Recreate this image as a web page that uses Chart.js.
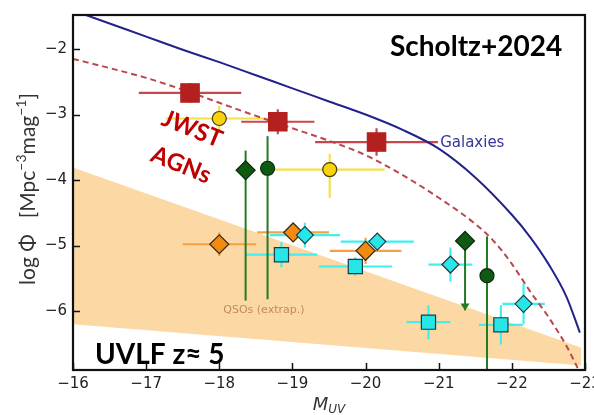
<!DOCTYPE html>
<html>
<head>
<meta charset="utf-8">
<script src="https://cdn.jsdelivr.net/npm/chart.js@4.4.1/dist/chart.umd.min.js"></script>
<style>
  html, body { margin: 0; padding: 0; background: #fff; overflow: hidden; width: 594px; height: 415px; }
  #wrap { position: relative; width: 640px; height: 415px; }
</style>
</head>
<body>
<div id="wrap"><canvas id="c" width="640" height="415"></canvas></div>
<script>
// Axis ticks
const magTicks = [-16, -17, -18, -19, -20, -21, -22, -23];
const phiTicks = [-2, -3, -4, -5, -6];

// Galaxy UV luminosity function (solid curve)
const galM   = [-16.0, -16.5, -17.0, -17.5, -18.0, -18.5, -19.0, -19.5, -20.0, -20.5, -21.0, -21.5, -22.0, -22.25, -22.5, -22.75, -22.93];
const galPhi = [-1.41, -1.61, -1.81, -2.01, -2.20, -2.40, -2.60, -2.80, -3.00, -3.23, -3.52, -3.96, -4.53, -4.87, -5.28, -5.79, -6.33];

// AGN luminosity function (dashed curve)
const agnM   = [-16.0, -16.5, -17.0, -17.5, -18.0, -18.5, -19.0, -19.5, -20.0, -20.5, -21.0, -21.5, -21.75, -22.0, -22.25, -22.5, -22.75, -22.9];
const agnPhi = [-2.15, -2.29, -2.44, -2.62, -2.82, -3.02, -3.21, -3.40, -3.62, -3.92, -4.27, -4.67, -4.93, -5.28, -5.70, -6.09, -6.54, -6.87];

// Extrapolated QSO band
const qsoM     = [-16.0, -22.95];
const qsoUpper = [-3.81, -6.56];
const qsoLower = [-6.20, -6.83];

// Red squares
const redM      = [-17.60, -18.80, -20.15];
const redPhi    = [-2.67, -3.11, -3.42];
const redMErr   = [0.70, 0.50, 0.84];
const redPhiErr = [0.15, 0.19, 0.21];

// Yellow circles
const yelM       = [-18.00, -19.51];
const yelPhi     = [-3.06, -3.84];
const yelMErr    = [0.73, 0.75];
const yelPhiErrU = [0.19, 0.24];
const yelPhiErrD = [0.22, 0.43];

// Dark green diamonds / circles (lower ends of error bars, one upper limit)
const grnDiaM   = [-18.36, -21.36];
const grnDiaPhi = [-3.85, -4.93];
const grnDiaTop = [-3.55, null];
const grnDiaBot = [-5.84, -5.99];
const grnCirM   = [-18.66, -21.66];
const grnCirPhi = [-3.82, -5.46];
const grnCirTop = [-3.33, -4.86];
const grnCirBot = [-5.82, -7.50];

// Orange diamonds
const orgM      = [-18.00, -19.01, -20.00];
const orgPhi    = [-4.98, -4.80, -5.08];
const orgMErr   = [0.50, 0.49, 0.49];
const orgPhiErr = [0.18, 0.12, 0.20];

// Cyan diamonds
const cyDiaM      = [-19.17, -20.16, -21.16, -22.16];
const cyDiaPhi    = [-4.84, -4.94, -5.29, -5.89];
const cyDiaMErr   = [0.48, 0.50, 0.30, 0.29];
const cyDiaPhiErr = [0.19, 0.10, 0.26, 0.31];

// Cyan squares
const cySqM      = [-18.85, -19.86, -20.86, -21.85];
const cySqPhi    = [-5.14, -5.32, -6.17, -6.21];
const cySqMErr   = [0.49, 0.50, 0.30, 0.30];
const cySqPhiErr = [0.19, 0.14, 0.26, 0.30];

const pts = (xs, ys) => xs.map((x, i) => ({ x: x, y: ys[i] }));

// error-bar groups drawn beneath the markers
const errGroups = [
  { m: orgM, phi: orgPhi, mErr: orgMErr, up: orgPhiErr, dn: orgPhiErr, color: '#f5a043', w: 2.2 },
  { m: cySqM, phi: cySqPhi, mErr: cySqMErr, up: cySqPhiErr, dn: cySqPhiErr, color: '#3ff0ee', w: 2.2 },
  { m: cyDiaM, phi: cyDiaPhi, mErr: cyDiaMErr, up: cyDiaPhiErr, dn: cyDiaPhiErr, color: '#3ff0ee', w: 2.2 },
  { m: yelM, phi: yelPhi, mErr: yelMErr, up: yelPhiErrU, dn: yelPhiErrD, color: '#f3e04a', w: 2.2 },
  { m: redM, phi: redPhi, mErr: redMErr, up: redPhiErr, dn: redPhiErr, color: '#c9474a', w: 2.2 }
];

const frameTicksPlugin = {
  id: 'frameTicks',
  afterDatasetDraw(chart, args) {
    if (chart.data.datasets[args.index].id !== 'qsoUpper') return;
    const ctx = chart.ctx, xs = chart.scales.x, ys = chart.scales.y, a = chart.chartArea;
    ctx.save();
    ctx.beginPath();
    ctx.rect(a.left, a.top, a.right - a.left, a.bottom - a.top);
    ctx.clip();
    ctx.lineCap = 'butt';
    errGroups.forEach(g => {
      ctx.strokeStyle = g.color;
      ctx.lineWidth = g.w;
      g.m.forEach((m, i) => {
        const px = xs.getPixelForValue(m), py = ys.getPixelForValue(g.phi[i]);
        ctx.beginPath();
        ctx.moveTo(xs.getPixelForValue(m + g.mErr[i]), py);
        ctx.lineTo(xs.getPixelForValue(m - g.mErr[i]), py);
        ctx.moveTo(px, ys.getPixelForValue(g.phi[i] + g.up[i]));
        ctx.lineTo(px, ys.getPixelForValue(g.phi[i] - g.dn[i]));
        ctx.stroke();
      });
    });
    // green vertical bars
    ctx.strokeStyle = '#237a23';
    ctx.fillStyle = '#237a23';
    ctx.lineWidth = 2;
    grnDiaM.forEach((m, i) => {
      const px = xs.getPixelForValue(m);
      const top = grnDiaTop[i] === null ? grnDiaPhi[i] : grnDiaTop[i];
      ctx.beginPath();
      ctx.moveTo(px, ys.getPixelForValue(top));
      ctx.lineTo(px, ys.getPixelForValue(grnDiaBot[i]));
      ctx.stroke();
      if (grnDiaTop[i] === null) {
        const tip = ys.getPixelForValue(grnDiaBot[i]);
        ctx.beginPath();
        ctx.moveTo(px - 4.5, tip - 7);
        ctx.lineTo(px + 4.5, tip - 7);
        ctx.lineTo(px, tip);
        ctx.closePath();
        ctx.fill();
      }
    });
    grnCirM.forEach((m, i) => {
      const px = xs.getPixelForValue(m);
      ctx.beginPath();
      ctx.moveTo(px, ys.getPixelForValue(grnCirTop[i]));
      ctx.lineTo(px, ys.getPixelForValue(grnCirBot[i]));
      ctx.stroke();
    });
    ctx.restore();
  },
  afterDatasetsDraw(chart) {
    const ctx = chart.ctx, xs = chart.scales.x, ys = chart.scales.y, a = chart.chartArea;
    ctx.save();
    // annotations
    ctx.fillStyle = '#35359c';
    ctx.font = '15px "DejaVu Sans"';
    ctx.textAlign = 'left';
    ctx.textBaseline = 'middle';
    ctx.fillText('Galaxies', xs.getPixelForValue(-21.02), ys.getPixelForValue(-3.43));
    ctx.fillStyle = '#c58a5c';
    ctx.font = '11px "DejaVu Sans"';
    ctx.textAlign = 'center';
    ctx.fillText('QSOs (extrap.)', xs.getPixelForValue(-18.61), ys.getPixelForValue(-5.98));

    ctx.fillStyle = '#000';
    ctx.font = 'bold 28px Lato';
    ctx.textAlign = 'left';
    ctx.textBaseline = 'alphabetic';
    ctx.fillText('Scholtz+2024', a.left + 317, a.top + 41);
    ctx.fillText('UVLF z\u2248 5', a.left + 22, a.top + 349);

    ctx.fillStyle = '#c00000';
    ctx.font = 'bold 24px Lato';
    ctx.textAlign = 'center';
    ctx.textBaseline = 'middle';
    [['JWST', 192, 129], ['AGNs', 181, 165]].forEach(([t, x, y]) => {
      ctx.save();
      ctx.translate(x, y);
      ctx.rotate(22 * Math.PI / 180);
      ctx.fillText(t, 0, 0);
      ctx.restore();
    });
    ctx.restore();
  },
  afterDraw(chart) {
    const ctx = chart.ctx, xs = chart.scales.x, ys = chart.scales.y, a = chart.chartArea;
    ctx.save();
    ctx.strokeStyle = '#111';
    ctx.lineWidth = 1.5;
    magTicks.forEach(v => {
      const px = Math.round(xs.getPixelForValue(v)) + 0.5;
      ctx.beginPath();
      ctx.moveTo(px, a.bottom);
      ctx.lineTo(px, a.bottom - 7);
      ctx.stroke();
    });
    phiTicks.forEach(v => {
      const py = Math.round(ys.getPixelForValue(v)) + 0.5;
      ctx.beginPath();
      ctx.moveTo(a.left, py);
      ctx.lineTo(a.left + 7, py);
      ctx.stroke();
    });
    ctx.lineWidth = 2.2;
    ctx.strokeStyle = '#111';
    ctx.strokeRect(a.left, a.top, a.right - a.left, a.bottom - a.top);

    // y-axis title with superscripts
    ctx.fillStyle = '#333';
    ctx.textBaseline = 'alphabetic';
    ctx.textAlign = 'left';
    const big = '21px Lato', small = '14px Lato';
    const parts = [['log \u03A6   [Mpc', big, 0], ['\u22123', small, -9], ['mag', big, 0], ['\u22121', small, -9], [']', big, 0]];
    let total = 0;
    parts.forEach(p => { ctx.font = p[1]; total += ctx.measureText(p[0]).width; });
    ctx.translate(35, 189);
    ctx.rotate(-Math.PI / 2);
    let cx = -total / 2;
    parts.forEach(p => { ctx.font = p[1]; ctx.fillText(p[0], cx, p[2]); cx += ctx.measureText(p[0]).width; });
    ctx.setTransform(1, 0, 0, 1, 0, 0);

    // x-axis title M_UV
    ctx.font = 'italic 18px "DejaVu Sans"';
    const mw = ctx.measureText('M').width;
    ctx.font = 'italic 12px "DejaVu Sans"';
    const uw = ctx.measureText('UV').width;
    const x0 = (a.left + a.right) / 2 - (mw + uw) / 2;
    ctx.font = 'italic 18px "DejaVu Sans"';
    ctx.fillText('M', x0, 410);
    ctx.font = 'italic 12px "DejaVu Sans"';
    ctx.fillText('UV', x0 + mw, 413);
    ctx.restore();
  }
};

const markerBase = { type: 'scatter', showLine: false, order: 1, pointBorderWidth: 1.2, pointHoverRadius: 0 };

new Chart(document.getElementById('c'), {
  type: 'scatter',
  data: {
    datasets: [
      Object.assign({}, markerBase, { label: 'cyan diamonds', data: pts(cyDiaM, cyDiaPhi), pointStyle: 'rectRot', pointRadius: 8.5, backgroundColor: '#27e6e8', borderColor: '#1c3a44', order: 1 }),
      Object.assign({}, markerBase, { label: 'cyan squares', data: pts(cySqM, cySqPhi), pointStyle: 'rect', pointRadius: 10, backgroundColor: '#27e6e8', borderColor: '#1c3a44', order: 1 }),
      Object.assign({}, markerBase, { label: 'orange diamonds', data: pts(orgM, orgPhi), pointStyle: 'rectRot', pointRadius: 9.5, backgroundColor: '#f28a10', borderColor: '#3a2a10', order: 2 }),
      Object.assign({}, markerBase, { label: 'green diamonds', data: pts(grnDiaM, grnDiaPhi), pointStyle: 'rectRot', pointRadius: 9.5, backgroundColor: '#0e5a12', borderColor: '#0a2a0a', order: 2 }),
      Object.assign({}, markerBase, { label: 'green circles', data: pts(grnCirM, grnCirPhi), pointStyle: 'circle', pointRadius: 7, backgroundColor: '#0e5a12', borderColor: '#0a2a0a', order: 2 }),
      Object.assign({}, markerBase, { label: 'yellow circles', data: pts(yelM, yelPhi), pointStyle: 'circle', pointRadius: 7, backgroundColor: '#f7d20e', borderColor: '#4a3a10', order: 2 }),
      Object.assign({}, markerBase, { label: 'red squares', data: pts(redM, redPhi), pointStyle: 'rect', pointRadius: 13, backgroundColor: '#b3201f', borderColor: '#b3201f', order: 2 }),
      { id: 'galaxies', label: 'Galaxies', type: 'line', data: pts(galM, galPhi), borderColor: '#22228c', borderWidth: 2, pointRadius: 0, fill: false, cubicInterpolationMode: 'monotone', order: 5 },
      { id: 'agn', label: 'AGN', type: 'line', data: pts(agnM, agnPhi), borderColor: '#b9474c', borderWidth: 2, borderDash: [6, 4], pointRadius: 0, fill: false, cubicInterpolationMode: 'monotone', order: 5 },
      { id: 'qsoUpper', label: 'QSOs', type: 'line', data: pts(qsoM, qsoUpper), borderWidth: 0, pointRadius: 0, backgroundColor: '#fbd8a4', fill: '+1', order: 10 },
      { id: 'qsoLower', label: 'QSOs lower', type: 'line', data: pts(qsoM, qsoLower), borderWidth: 0, pointRadius: 0, fill: false, order: 11 }
    ]
  },
  options: {
    responsive: false,
    animation: false,
    devicePixelRatio: 1,
    events: [],
    layout: { padding: { left: 0, top: 6, right: 55, bottom: 0 } },
    plugins: { legend: { display: false }, tooltip: { enabled: false } },
    scales: {
      x: {
        type: 'linear', min: -23, max: -16, reverse: true,
        afterBuildTicks: s => { s.ticks = magTicks.map(v => ({ value: v })); },
        afterFit: s => { s.height = 45; },
        grid: { display: false, drawTicks: false },
        border: { display: false },
        ticks: { font: { family: 'DejaVu Sans', size: 15 }, color: '#222', padding: 5, maxRotation: 0,
                 callback: v => '\u2212' + Math.abs(v) }
      },
      y: {
        type: 'linear', min: -6.9, max: -1.48,
        afterBuildTicks: s => { s.ticks = phiTicks.map(v => ({ value: v })); },
        afterFit: s => { s.width = 73; },
        grid: { display: false, drawTicks: false },
        border: { display: false },
        ticks: { font: { family: 'DejaVu Sans', size: 15 }, color: '#222', padding: 6,
                 callback: v => '\u2212' + Math.abs(v) }
      }
    }
  },
  plugins: [frameTicksPlugin]
});
</script>
</body>
</html>
